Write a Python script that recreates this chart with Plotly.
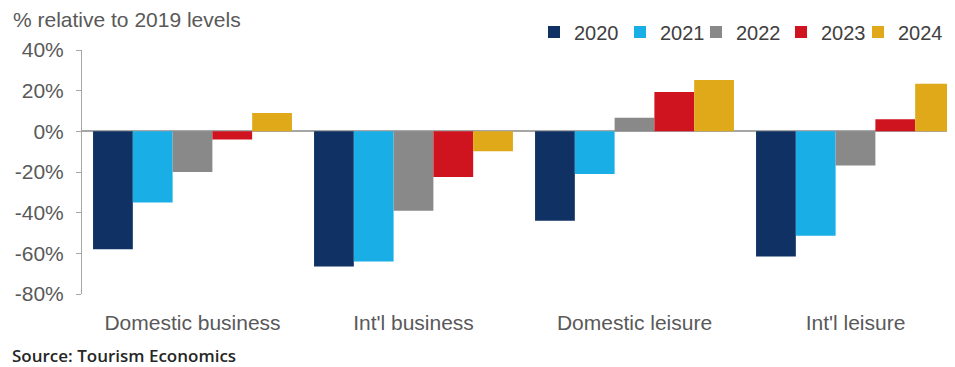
import plotly.graph_objects as go

categories = ["Domestic business", "Int'l business", "Domestic leisure", "Int'l leisure"]
years = ["2020", "2021", "2022", "2023", "2024"]
v2020 = [-58, -66.5, -44, -61.6]
v2021 = [-35, -64, -21, -51.3]
v2022 = [-20, -39, 6.7, -16.8]
v2023 = [-4, -22.4, 19.3, 6]
v2024 = [9, -9.8, 25.3, 23.4]
tick_vals = [40, 20, 0, -20, -40, -60, -80]
tick_text = ["40%", "20%", "0%", "-20%", "-40%", "-60%", "-80%"]

colors = ["#0f3163", "#1aaee6", "#898989", "#cf1420", "#dfa919"]
series = [v2020, v2021, v2022, v2023, v2024]

# the page body adds an 8px offset; lay out in screen pixels and compensate
OFF = 8
SW, SH = 955, 367
W, H = SW, SH - OFF               # figure runs past the right edge, as the reference is cropped there
PL, PT, PB = 82, 50, 294          # plot area in screen pixels
ML = PL - OFF
MT = PT - OFF
MB = SH - PB
MR = 0
pw = W - ML - MR
ph = H - MT - MB
CAT_PX = 221                      # pixels per category slot
x_hi = -0.5 + pw / CAT_PX


def px_x(x):
    return (x - OFF - ML) / pw


def px_y(y):
    return (SH - MB - y) / ph


legend_x = [534, 620, 696, 781, 858]
legend_names = ["legend", "legend2", "legend3", "legend4", "legend5"]

fig = go.Figure()
for name, vals, col, lg in zip(years, series, colors, legend_names):
    fig.add_trace(go.Bar(x=categories, y=vals, name=name, legend=lg,
                         marker=dict(color=col, line=dict(width=0))))

layout_legends = {}
for lg, lx in zip(legend_names, legend_x):
    layout_legends[lg] = dict(orientation="h", x=px_x(lx), xanchor="left", y=px_y(32), yanchor="middle",
                              font=dict(size=20, color="#404040"), itemwidth=30,
                              bgcolor="rgba(0,0,0,0)")

fig.update_layout(
    width=W, height=H,
    margin=dict(l=ML, r=MR, t=MT, b=MB, autoexpand=False),
    paper_bgcolor="white", plot_bgcolor="white",
    barmode="group", bargap=0.1, bargroupgap=0,
    font=dict(family="Liberation Sans, Arial, sans-serif", color="#595959", size=21),
    showlegend=True,
    xaxis=dict(range=[-0.5, x_hi], showline=False, showgrid=False, zeroline=False,
               ticks="", ticklabelstandoff=14, tickfont=dict(size=21, color="#595959")),
    yaxis=dict(range=[-80, 40], tickvals=tick_vals, ticktext=tick_text,
               showline=True, linecolor="#a6a6a6", linewidth=1,
               ticks="outside", ticklen=5, tickcolor="#a6a6a6",
               showgrid=False, zeroline=True, zerolinecolor="#a6a6a6", zerolinewidth=1.5,
               ticklabelstandoff=8, tickfont=dict(size=21, color="#595959")),
    annotations=[
        dict(text="% relative to 2019 levels", x=px_x(11), y=px_y(20), xref="paper", yref="paper",
             xanchor="left", yanchor="middle", showarrow=False,
             font=dict(size=21, color="#595959")),
        dict(text="Source: Tourism Economics", x=px_x(10), y=px_y(355), xref="paper", yref="paper",
             xanchor="left", yanchor="middle", showarrow=False,
             font=dict(family="Open Sans, sans-serif", size=17, weight=600, color="#262626")),
    ],
    **layout_legends,
)

fig.write_html("out.html")
